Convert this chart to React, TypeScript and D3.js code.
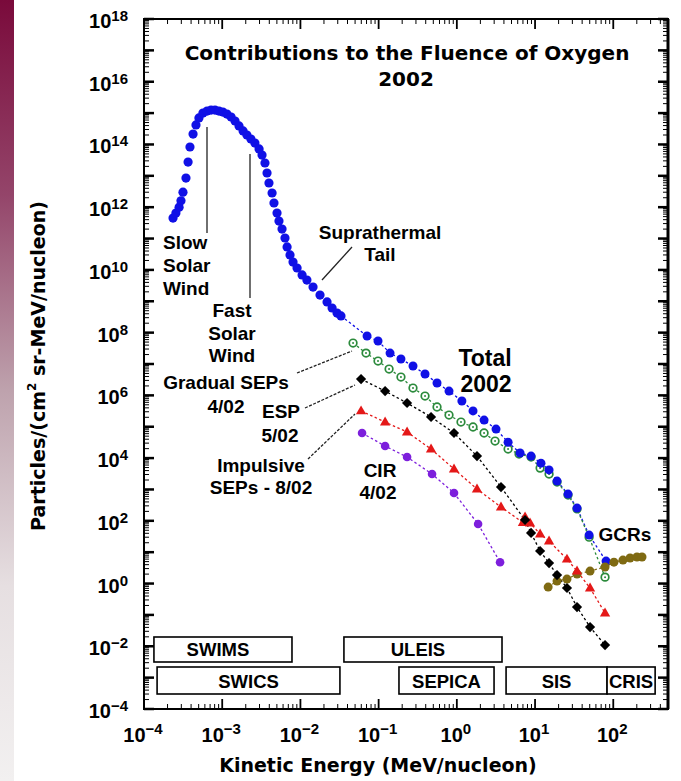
import React from "react";
import * as d3 from "d3";

// ---------------- data ----------------
const X_DOMAIN: [number, number] = [1e-4, 501];
const Y_DOMAIN: [number, number] = [1e-4, 1e18];

const xLabelDecades = [-4, -3, -2, -1, 0, 1, 2];
const yLabelDecades = [18, 16, 14, 12, 10, 8, 6, 4, 2, 0, -2, -4];

// Solar wind (SWICS/SWIMS), blue filled circles
const solarWindE = [2.35e-4, 2.56e-4, 2.81e-4, 2.97e-4, 3.15e-4, 3.44e-4, 3.66e-4, 3.87e-4, 4.24e-4, 4.62e-4, 5.04e-4, 5.67e-4, 6.4e-4, 7.2e-4, 8.09e-4, 9.1e-4, 1.02e-3, 1.15e-3, 1.3e-3, 1.46e-3, 1.64e-3, 1.85e-3, 2.07e-3, 2.33e-3, 2.62e-3, 2.96e-3, 3.23e-3, 3.52e-3, 3.74e-3, 3.96e-3, 4.34e-3, 4.59e-3, 5.02e-3, 5.32e-3, 5.82e-3, 6.35e-3, 6.75e-3, 7.36e-3, 8.04e-3, 9.06e-3, 1.05e-2, 1.21e-2, 1.45e-2, 1.78e-2, 2.19e-2, 2.54e-2, 2.94e-2, 3.3e-2];
const solarWindF = [4.5e11, 6.5e11, 1.0e12, 1.6e12, 3.0e12, 8.5e12, 2.75e13, 8.3e13, 2.15e14, 4.2e14, 7.0e14, 1.0e15, 1.16e15, 1.25e15, 1.25e15, 1.16e15, 1.08e15, 9.3e14, 7.5e14, 5.6e14, 3.9e14, 2.7e14, 2.0e14, 1.49e14, 1.11e14, 7.2e13, 4.6e13, 2.56e13, 1.23e13, 5.9e12, 2.83e12, 1.36e12, 6.5e11, 3.6e11, 2.0e11, 1.04e11, 5.4e10, 3.0e10, 1.78e10, 1.15e10, 6.9e9, 4.75e9, 2.84e9, 1.58e9, 9.5e8, 6.1e8, 4.2e8, 3.4e8];

// Total 2002, blue filled circles, dashed
const totalE = [0.0711, 0.0982, 0.14, 0.193, 0.275, 0.392, 0.558, 0.794, 1.16, 1.61, 2.23, 3.17, 4.52, 6.43, 8.89, 11.9, 15.1, 19.1, 26.4, 34.4, 49.1, 80.9];
const totalF = [7.8e7, 5.4e7, 2.23e7, 1.44e7, 8.6e6, 4.8e6, 2.47e6, 1.37e6, 6.6e5, 3.2e5, 1.63e5, 8.4e4, 3.2e4, 1.45e4, 1.16e4, 6.9e3, 4.2e3, 1.85e3, 713, 255, 35, 5.2];

// Gradual SEPs 4/02, green open circles
const gradualE = [0.0471, 0.069, 0.0982, 0.136, 0.193, 0.275, 0.392, 0.558, 0.794, 1.13, 1.61, 2.23, 3.08, 4.52, 6.24, 8.89, 11.6, 15.1, 19.1, 26.4, 34.4, 49.1, 78.5];
const gradualF = [4.66e7, 2.23e7, 1.24e7, 6.9e6, 3.84e6, 1.71e6, 9.5e5, 4.25e5, 2.36e5, 1.41e5, 9.8e4, 6.3e4, 3.5e4, 1.94e4, 1.35e4, 1.08e4, 4.8e3, 3.1e3, 1.72e3, 662, 240, 30, 1.6];

// ESP 5/02, black diamonds
const espE = [0.0596, 0.121, 0.231, 0.468, 0.92, 1.81, 3.67, 7.45, 8.89, 11.6, 15.1, 19.1, 25.6, 34.4, 50.5, 78.5];
const espF = [3.3e6, 1.37e6, 5.7e5, 2.04e5, 6.3e4, 1.16e4, 1.19e3, 106, 41, 10.9, 4.5, 1.86, 0.72, 0.178, 0.041, 0.0109];

// Impulsive SEPs 8/02, red triangles
const impulsiveE = [0.0596, 0.121, 0.231, 0.468, 0.92, 1.81, 3.67, 7.0, 7.45, 8.63, 11.6, 15.1, 25.6, 34.4, 50.5, 78.5];
const impulsiveF = [3.2e5, 1.41e5, 6.8e4, 1.94e4, 4.5e3, 1.03e3, 275, 88, 132, 85, 38, 22.6, 6.0, 2.5, 0.72, 0.115];

// CIR 4/02, purple circles
const cirE = [0.0614, 0.121, 0.231, 0.482, 0.92, 1.87, 3.57];
const cirF = [6.3e4, 2.42e4, 1.08e4, 3.1e3, 767, 79, 4.8];

// GCRs, olive circles
const gcrE = [14.7, 19.1, 25.6, 34.4, 50.5, 78.5, 102, 133, 164, 201, 233];
const gcrF = [0.77, 1.2, 1.39, 2.0, 2.5, 3.36, 4.8, 5.6, 6.5, 7.0, 7.0];

// Instrument energy ranges
const instrumentNames = ["SWIMS", "SWICS", "ULEIS", "SEPICA", "SIS", "CRIS"];
const instrumentLo = [1.34e-4, 1.47e-4, 0.036, 0.182, 4.26, 83.3];
const instrumentHi = [7.8e-3, 0.032, 3.78, 2.99, 83.3, 343];
const instrumentRow = [0, 1, 0, 1, 1, 1];

// ---------------- layout ----------------
const W = 681;
const H = 781;
const PL = 144, PR = 668, PT = 19, PB = 709;
const ROW_TOP = [637, 667];
const ROW_BOT = [662, 694];

const FT = "'DejaVu Sans', Verdana, sans-serif";
const FA = "'Liberation Sans', Arial, Helvetica, sans-serif";

const BLUE = "#1010e6";
const GREEN = "#2b8a3b";
const RED = "#e41818";
const PURPLE = "#7d1fdc";
const OLIVE = "#7f6a12";

export default function App() {
  const x = d3.scaleLog().domain(X_DOMAIN).range([PL, PR]);
  const y = d3.scaleLog().domain(Y_DOMAIN).range([PB, PT]);

  const pts = (E: number[], F: number[]) => E.map((e, i) => [e, F[i]] as [number, number]);
  const lineGen = d3
    .line<[number, number]>()
    .x((d) => x(d[0]))
    .y((d) => y(d[1]));

  const sw = pts(solarWindE, solarWindF);
  const total = pts(totalE, totalF);
  const gradual = pts(gradualE, gradualF);
  const esp = pts(espE, espF);
  const imp = pts(impulsiveE, impulsiveF);
  const cir = pts(cirE, cirF);
  const gcr = pts(gcrE, gcrF);

  const totalLine: [number, number][] = [sw[sw.length - 1], ...total];

  // ticks
  const yTicks: { v: number; major: boolean }[] = [];
  for (let d = -4; d <= 18; d++) {
    for (let m = 1; m <= 9; m++) {
      const v = m * Math.pow(10, d);
      if (v > Y_DOMAIN[1] * 1.0001) continue;
      yTicks.push({ v, major: m === 1 });
    }
  }
  const xTicks: { v: number; major: boolean }[] = [];
  for (let d = -4; d <= 2; d++) {
    for (let m = 1; m <= 9; m++) {
      const v = m * Math.pow(10, d);
      if (v > X_DOMAIN[1]) continue;
      xTicks.push({ v, major: m === 1 });
    }
  }

  const diamond = d3.symbol(d3.symbolSquare, 52)()!;
  const triangle = d3.symbol(d3.symbolTriangle, 46)()!;

  const dash = "2.5,2.5";

  return (
    <svg
      width={W}
      height={H}
      viewBox={`0 0 ${W} ${H}`}
      style={{ position: "absolute", left: 0, top: 0, background: "#fff" }}
    >
      <defs>
        <linearGradient id="strip" x1="0" y1="0" x2="0" y2="1">
          <stop offset="0" stopColor="#7a0a3b" />
          <stop offset="0.25" stopColor="#94456a" />
          <stop offset="0.5" stopColor="#bea2ad" />
          <stop offset="0.75" stopColor="#e6dfe1" />
          <stop offset="1" stopColor="#f2f0f0" />
        </linearGradient>
      </defs>
      <rect x={0} y={0} width={W} height={H} fill="#fff" />
      <rect x={0} y={0} width={14} height={H} fill="url(#strip)" />

      {/* ticks */}
      <g stroke="#000">
        {yTicks.map((t, i) => {
          const yy = y(t.v);
          const len = t.major ? 10 : 5;
          const sw = t.major ? 2.5 : 1;
          return (
            <g key={"yt" + i} strokeWidth={sw}>
              <line x1={PL} x2={PL + len} y1={yy} y2={yy} />
              <line x1={PR} x2={PR - len} y1={yy} y2={yy} />
            </g>
          );
        })}
        {xTicks.map((t, i) => {
          const xx = x(t.v);
          const len = t.major ? 10 : 5;
          const sw = t.major ? 1.8 : 1;
          return (
            <g key={"xt" + i} strokeWidth={sw}>
              <line x1={xx} x2={xx} y1={PB} y2={PB - len} />
              <line x1={xx} x2={xx} y1={PT} y2={PT + len} />
            </g>
          );
        })}
      </g>
      {/* frame */}
      <rect x={PL} y={PT} width={PR - PL} height={PB - PT} fill="none" stroke="#000" strokeWidth={2} />
      <line x1={PR} x2={PR} y1={PT} y2={PB} stroke="#000" strokeWidth={3} />

      {/* y tick labels */}
      {yLabelDecades.map((d) => (
        <text
          key={"yl" + d}
          x={128}
          y={y(Math.pow(10, d)) + 9}
          textAnchor="end"
          fontFamily={FA}
          fontWeight="bold"
          fontSize={20}
        >
          10
          <tspan dy={-7} fontSize={15}>
            {d < 0 ? "\u2212" + Math.abs(d) : String(d)}
          </tspan>
        </text>
      ))}
      {/* x tick labels */}
      {xLabelDecades.map((d) => (
        <text
          key={"xl" + d}
          x={x(Math.pow(10, d)) - 1}
          y={742}
          textAnchor="middle"
          fontFamily={FA}
          fontWeight="bold"
          fontSize={20}
        >
          10
          <tspan dy={-8} fontSize={15}>
            {d < 0 ? "\u2212" + Math.abs(d) : String(d)}
          </tspan>
        </text>
      ))}

      {/* axis titles */}
      <text x={378} y={772} textAnchor="middle" fontFamily={FT} fontWeight="bold" fontSize={19}>
        Kinetic Energy (MeV/nucleon)
      </text>
      <text
        transform="translate(45,366) rotate(-90)"
        textAnchor="middle"
        fontFamily={FT}
        fontWeight="bold"
        fontSize={19}
      >
        Particles/(cm
        <tspan dy={-9} fontSize={12}>2</tspan>
        <tspan dy={9}> sr-MeV/nucleon)</tspan>
      </text>

      {/* title */}
      <text x={407} y={60} textAnchor="middle" fontFamily={FT} fontWeight="bold" fontSize={20}>
        Contributions to the Fluence of Oxygen
      </text>
      <text x={406} y={86} textAnchor="middle" fontFamily={FT} fontWeight="bold" fontSize={20}>
        2002
      </text>

      {/* instrument boxes */}
      {instrumentNames.map((n, i) => {
        const r = instrumentRow[i];
        const x0 = x(instrumentLo[i]);
        const x1 = x(instrumentHi[i]);
        return (
          <g key={"ins" + n}>
            <rect
              x={x0}
              y={ROW_TOP[r]}
              width={x1 - x0}
              height={ROW_BOT[r] - ROW_TOP[r]}
              fill="#fff"
              stroke="#000"
              strokeWidth={1.6}
            />
            <text
              x={(x0 + x1) / 2 - (n === "SWIMS" || n === "ULEIS" ? 5 : 0)}
              y={ROW_BOT[r] - 6}
              textAnchor="middle"
              fontFamily={FA}
              fontWeight="bold"
              fontSize={18.5}
            >
              {n}
            </text>
          </g>
        );
      })}

      {/* leader lines */}
      <g stroke="#222" strokeWidth={1.3} fill="none">
        <line x1={207} y1={127} x2={207} y2={233} />
        <line x1={250} y1={154} x2={250} y2={298} />
        <line x1={352} y1={247} x2={322} y2={280} />
        <line x1={297} y1={373} x2={352} y2={351} strokeDasharray="3,1.5" />
        <line x1={305} y1={408} x2={355} y2={385} strokeDasharray="3,1.5" />
        <line x1={308} y1={459} x2={355} y2={414} strokeDasharray="3,1.5" />
      </g>

      {/* series lines */}
      <g fill="none" strokeWidth={1.3} strokeDasharray={dash}>
        <path d={lineGen(totalLine)!} stroke={BLUE} />
        <path d={lineGen(gradual)!} stroke={GREEN} />
        <path d={lineGen(esp)!} stroke="#000" />
        <path d={lineGen(imp)!} stroke={RED} />
        <path d={lineGen(cir)!} stroke={PURPLE} />
        <path d={lineGen(gcr)!} stroke={OLIVE} />
      </g>

      {/* markers */}
      <g fill={BLUE}>
        {sw.map((p, i) => (
          <circle key={"sw" + i} cx={x(p[0])} cy={y(p[1])} r={4.6} />
        ))}
      </g>
      <g>
        {gradual.map((p, i) => (
          <g key={"gr" + i}>
            <circle cx={x(p[0])} cy={y(p[1])} r={3.8} fill="#fff" stroke={GREEN} strokeWidth={1.7} />
            <circle cx={x(p[0])} cy={y(p[1])} r={1} fill={GREEN} />
          </g>
        ))}
      </g>
      <g fill={BLUE}>
        {total.map((p, i) => (
          <circle key={"tot" + i} cx={x(p[0])} cy={y(p[1])} r={4.5} />
        ))}
      </g>
      <g fill={PURPLE}>
        {cir.map((p, i) => (
          <circle key={"cir" + i} cx={x(p[0])} cy={y(p[1])} r={4.3} />
        ))}
      </g>
      <g fill={OLIVE}>
        {gcr.map((p, i) => (
          <circle key={"gcr" + i} cx={x(p[0])} cy={y(p[1])} r={4.5} />
        ))}
      </g>
      <g fill={RED}>
        {imp.map((p, i) => (
          <path key={"imp" + i} d={triangle} transform={`translate(${x(p[0])},${y(p[1]) + 0.5})`} />
        ))}
      </g>
      <g fill="#000">
        {esp.map((p, i) => (
          <path key={"esp" + i} d={diamond} transform={`translate(${x(p[0])},${y(p[1])}) rotate(45)`} />
        ))}
      </g>

      {/* annotations */}
      <g fontFamily={FA} fontWeight="bold" fontSize={19} fill="#000">
        <text x={163} y={249}>Slow</text>
        <text x={163} y={272}>Solar</text>
        <text x={163} y={295}>Wind</text>

        <text x={232} y={317} textAnchor="middle">Fast</text>
        <text x={232} y={340} textAnchor="middle">Solar</text>
        <text x={232} y={362} textAnchor="middle">Wind</text>

        <text x={380} y={239} textAnchor="middle">Suprathermal</text>
        <text x={380} y={261} textAnchor="middle">Tail</text>

        <text x={226} y={389} textAnchor="middle">Gradual SEPs</text>
        <text x={226} y={413} textAnchor="middle">4/02</text>

        <text x={281} y={418} textAnchor="middle">ESP</text>
        <text x={280} y={442} textAnchor="middle">5/02</text>

        <text x={261} y={472} textAnchor="middle">Impulsive</text>
        <text x={261} y={494} textAnchor="middle">SEPs - 8/02</text>

        <text x={380} y={477} textAnchor="middle">CIR</text>
        <text x={378} y={499} textAnchor="middle">4/02</text>

        <text x={625} y={541} textAnchor="middle">GCRs</text>

        <text x={485} y={366} textAnchor="middle" fontSize={23}>Total</text>
        <text x={486} y={392} textAnchor="middle" fontSize={23}>2002</text>
      </g>
    </svg>
  );
}
